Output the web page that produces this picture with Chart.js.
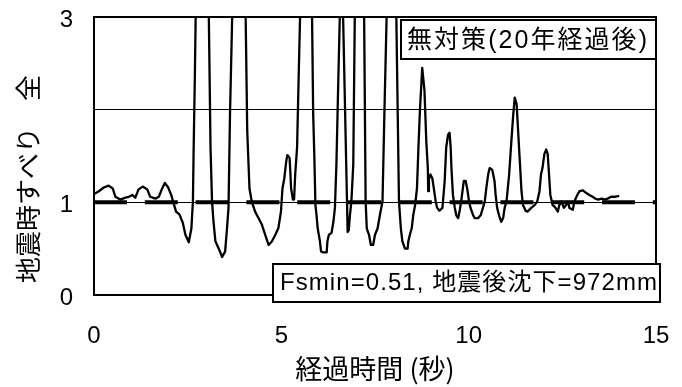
<!DOCTYPE html>
<html>
<head>
<meta charset="utf-8">
<script src="https://cdn.jsdelivr.net/npm/chart.js@4/dist/chart.umd.min.js"></script>
<style>
  html, body { margin: 0; padding: 0; background: #fff; }
  canvas { display: block; }
</style>
</head>
<body>
<canvas id="fs" width="682" height="387"></canvas>
<script>
// Elapsed time (s) and seismic sliding safety factor Fs
const timeSec = [
  0.00, 0.13, 0.26, 0.39, 0.50, 0.57, 0.70, 0.84, 0.93, 1.02,
  1.10, 1.19, 1.30, 1.42, 1.50, 1.64, 1.73, 1.82, 1.89, 1.98,
  2.06, 2.11, 2.19, 2.28, 2.37, 2.44, 2.53, 2.60, 2.64, 2.66,
  2.69, 2.895, 3.11, 3.15, 3.19, 3.24, 3.33, 3.42, 3.50, 3.55,
  3.59, 3.63, 3.91, 4.09, 4.15, 4.21, 4.30, 4.39, 4.48, 4.57,
  4.66, 4.75, 4.84, 4.92, 4.99, 5.03, 5.08, 5.13, 5.16, 5.22,
  5.24, 5.26, 5.31, 5.34, 5.37, 5.42, 5.46, 5.715, 5.85, 5.88,
  5.91, 5.94, 5.97, 6.03, 6.06, 6.12, 6.21, 6.23, 6.27, 6.34,
  6.39, 6.43, 6.47, 6.52, 6.607, 6.77, 6.80, 6.83, 6.87, 6.92,
  7.10, 7.25, 7.28, 7.34, 7.39, 7.45, 7.50, 7.57, 7.63, 7.70,
  7.75, 7.97, 8.14, 8.19, 8.23, 8.30, 8.37, 8.39, 8.43, 8.48,
  8.52, 8.57, 8.62, 8.66, 8.70, 8.76, 8.82, 8.87, 8.91, 8.92,
  8.94, 8.98, 9.03, 9.07, 9.12, 9.16, 9.22, 9.30, 9.36, 9.40,
  9.45, 9.49, 9.52, 9.54, 9.58, 9.63, 9.67, 9.72, 9.76, 9.80,
  9.87, 9.92, 9.96, 10.01, 10.05, 10.12, 10.16, 10.25, 10.32, 10.38,
  10.43, 10.47, 10.52, 10.56, 10.63, 10.69, 10.72, 10.76, 10.81, 10.87,
  10.92, 10.96, 11.01, 11.08, 11.14, 11.19, 11.23, 11.28, 11.32, 11.37,
  11.41, 11.45, 11.52, 11.57, 11.67, 11.76, 11.83, 11.89, 11.93, 11.97,
  12.02, 12.05, 12.07, 12.11, 12.14, 12.18, 12.24, 12.30, 12.38, 12.42,
  12.48, 12.54, 12.60, 12.65, 12.69, 12.78, 12.82, 12.90, 12.96, 13.05,
  13.14, 13.22, 13.31, 13.38, 13.46, 13.55, 13.63, 13.71, 13.80, 13.89,
  14.02
];
const safetyFactor = [
  1.09, 1.12, 1.16, 1.18, 1.15, 1.06, 1.03, 1.05, 1.06, 1.08,
  1.05, 1.14, 1.17, 1.14, 1.06, 1.04, 1.06, 1.15, 1.21, 1.16,
  1.08, 1.01, 0.90, 0.87, 0.78, 0.65, 0.57, 0.72, 1.01, 1.59,
  2.31, 8.30, 1.59, 1.01, 0.79, 0.58, 0.50, 0.41, 0.47, 0.72,
  0.94, 1.95, 7.00, 1.77, 1.15, 1.01, 0.90, 0.83, 0.76, 0.65,
  0.54, 0.58, 0.65, 0.72, 0.90, 1.15, 1.26, 1.44, 1.51, 1.48,
  1.33, 1.15, 1.03, 1.03, 1.30, 1.59, 2.31, 6.70, 1.95, 1.51,
  0.97, 0.86, 0.72, 0.58, 0.47, 0.46, 0.46, 0.58, 0.65, 0.67,
  0.79, 0.94, 1.41, 2.31, 3.80, 0.68, 0.70, 0.86, 1.01, 1.41,
  8.50, 1.01, 0.72, 0.65, 0.54, 0.54, 0.65, 0.72, 0.86, 1.01,
  1.95, 5.80, 1.01, 0.72, 0.58, 0.50, 0.50, 0.58, 0.65, 0.72,
  0.86, 0.97, 1.15, 1.60, 2.00, 2.45, 2.21, 1.65, 1.37, 1.12,
  1.25, 1.30, 1.26, 1.15, 1.01, 0.94, 0.91, 0.94, 1.23, 1.59,
  1.73, 1.75, 1.59, 1.37, 1.08, 0.94, 0.86, 0.83, 0.91, 1.01,
  1.23, 1.23, 1.15, 1.01, 0.94, 0.86, 0.83, 0.83, 0.86, 0.94,
  1.01, 1.15, 1.30, 1.37, 1.35, 1.23, 1.08, 0.94, 0.86, 0.79,
  0.83, 0.94, 1.01, 1.30, 1.66, 1.95, 2.13, 2.06, 1.77, 1.41,
  1.12, 0.97, 0.91, 0.90, 0.94, 0.97, 1.01, 1.12, 1.30, 1.37,
  1.52, 1.55, 1.57, 1.52, 1.33, 1.08, 0.97, 0.95, 0.90, 0.97,
  1.01, 0.94, 0.97, 1.01, 0.94, 0.92, 1.01, 1.08, 1.12, 1.13,
  1.10, 1.08, 1.06, 1.04, 1.03, 1.04, 1.03, 1.04, 1.06, 1.06,
  1.07
];

// Fs = 1.0 reference level across the whole record
const refTime = [0, 15];
const refFs = [1, 1];

// Axis ranges and tick labels
const xRange = [0, 15];
const xStep = 5;
const yRange = [0, 3];
const yTickLabels = ['0', '1', '', '3'];

// Texts
const xTitle = '経過時間 (秒)';
const yTitle = '地震時すべり　全';
const caseLabel = '無対策(20年経過後)';
const resultLabel = 'Fsmin=0.51, 地震後沈下=972mm';

const LATIN = "'Liberation Sans', Arial, 'Noto Sans CJK JP', sans-serif";
const CJK = "'Noto Sans CJK JP', 'Liberation Sans', sans-serif";

function fittedText(ctx, text, x, y, width) {
  ctx.letterSpacing = '0px';
  const natural = ctx.measureText(text).width;
  const n = Array.from(text).length;
  const gap = (width - natural) / n;
  ctx.letterSpacing = gap.toFixed(2) + 'px';
  ctx.fillText(text, x, y);
  ctx.letterSpacing = '0px';
}

const frameAndNotes = {
  id: 'frameAndNotes',
  afterDatasetsDraw(chart) {
    const { ctx, chartArea: a } = chart;
    ctx.save();
    // plot frame
    ctx.strokeStyle = '#000';
    ctx.lineWidth = 2;
    ctx.strokeRect(a.left, a.top, a.right - a.left, a.bottom - a.top);

    // case label box (top right)
    ctx.fillStyle = '#fff';
    ctx.fillRect(401, 20, 255, 39);
    ctx.strokeRect(401, 20, 255, 39);
    ctx.fillStyle = '#000';
    ctx.font = '25px ' + LATIN;
    ctx.textAlign = 'left';
    ctx.textBaseline = 'middle';
    fittedText(ctx, caseLabel, 407, 41, 242);

    // result box (bottom right)
    ctx.fillStyle = '#fff';
    ctx.fillRect(273, 264, 387, 38);
    ctx.strokeRect(273, 264, 387, 38);
    ctx.fillStyle = '#000';
    ctx.font = '24px ' + LATIN;
    fittedText(ctx, resultLabel, 280, 283.5, 378);

    // vertical axis title
    ctx.translate(28, 179);
    ctx.rotate(-Math.PI / 2);
    ctx.font = '26px ' + CJK;
    ctx.textAlign = 'center';
    ctx.textBaseline = 'middle';
    ctx.fillText(yTitle, 0, 0);
    ctx.restore();
  }
};

new Chart(document.getElementById('fs'), {
  type: 'line',
  data: {
    datasets: [
      {
        data: refTime.map((t, i) => ({ x: t, y: refFs[i] })),
        borderColor: '#000',
        borderWidth: 4,
        borderDash: [33, 17.8],
        borderCapStyle: 'butt',
        pointRadius: 0,
        clip: 0,
        order: 0
      },
      {
        data: timeSec.map((t, i) => ({ x: t, y: safetyFactor[i] })),
        borderColor: '#000',
        borderWidth: 2.3,
        borderJoinStyle: 'round',
        tension: 0,
        pointRadius: 0,
        clip: 0,
        order: 1
      }
    ]
  },
  options: {
    responsive: false,
    animation: false,
    devicePixelRatio: 1,
    layout: { padding: { top: 17, right: 26, left: 0, bottom: 0 } },
    plugins: { legend: { display: false }, tooltip: { enabled: false } },
    scales: {
      x: {
        type: 'linear',
        min: xRange[0],
        max: xRange[1],
        afterFit(s) { s.height = 92; s.paddingLeft = 0; s.paddingRight = 0; },
        grid: { display: false, drawTicks: false },
        border: { display: false },
        ticks: {
          stepSize: xStep,
          padding: 27,
          color: '#000',
          font: { family: LATIN, size: 24 },
          maxRotation: 0
        },
        title: {
          display: true,
          text: xTitle,
          color: '#000',
          font: { family: CJK, size: 27 },
          padding: { top: 0, bottom: 2 }
        }
      },
      y: {
        min: yRange[0],
        max: yRange[1],
        afterFit(s) { s.width = 94; s.paddingTop = 0; s.paddingBottom = 0; },
        grid: {
          drawTicks: false,
          lineWidth: 1,
          color: c => (c.tick && (c.tick.value === 1 || c.tick.value === 2)) ? '#000' : 'rgba(0,0,0,0)'
        },
        border: { display: false },
        ticks: {
          stepSize: 1,
          padding: 21,
          labelOffset: 3,
          color: '#000',
          font: { family: LATIN, size: 24 },
          callback: (v) => yTickLabels[v] ?? ''
        }
      }
    }
  },
  plugins: [frameAndNotes]
});
</script>
</body>
</html>
